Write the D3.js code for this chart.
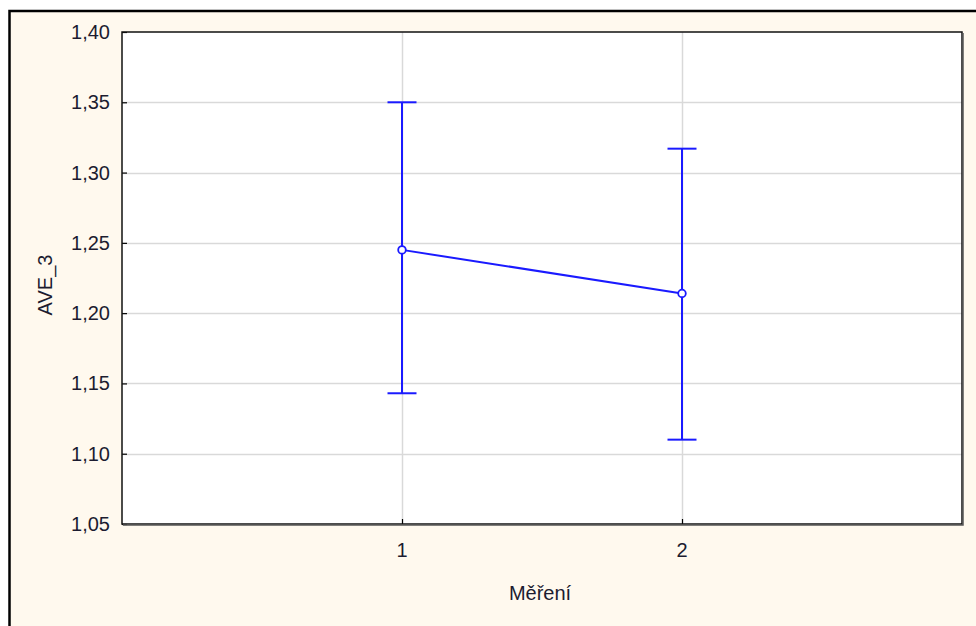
<!DOCTYPE html>
<html>
<head>
<meta charset="utf-8">
<script src="https://cdn.jsdelivr.net/npm/d3@7"></script>
<style>
  body { margin: 0; background: #ffffff; }
  svg { display: block; }
  text { font-family: "Liberation Sans", Arial, sans-serif; fill: #1c1c30; }
</style>
</head>
<body>
<svg id="chart" width="976" height="626"></svg>
<script>
// data
const categories = [1, 2];
const means = [1.245, 1.214];
const upper = [1.350, 1.317];
const lower = [1.143, 1.110];
const yTicks = [1.05, 1.10, 1.15, 1.20, 1.25, 1.30, 1.35, 1.40];

const svg = d3.select('#chart');
const W = 976, H = 626;
const plot = { left: 122, top: 32, right: 962, bottom: 524 };
const fontSize = 20;

// outer frame (runs off the right/bottom edge)
svg.append('rect')
    .attr('x', 9.5).attr('y', 11)
    .attr('width', W + 20).attr('height', H + 20)
    .attr('fill', '#fff9ee')
    .attr('stroke', '#000')
    .attr('stroke-width', 2.5);

const x = d3.scaleLinear().domain([0, 3]).range([plot.left, plot.right]);
const y = d3.scaleLinear().domain([1.05, 1.40]).range([plot.bottom, plot.top]);

// plot background
svg.append('rect')
    .attr('x', plot.left).attr('y', plot.top)
    .attr('width', plot.right - plot.left).attr('height', plot.bottom - plot.top)
    .attr('fill', '#ffffff');

// grid
const grid = svg.append('g').attr('stroke', '#d9d9d9').attr('stroke-width', 1.5);
grid.selectAll('.hg')
    .data(yTicks.slice(1, -1))
    .enter().append('line')
    .attr('x1', plot.left).attr('x2', plot.right)
    .attr('y1', d => Math.round(y(d)) + 0.5).attr('y2', d => Math.round(y(d)) + 0.5);
grid.selectAll('.vg')
    .data(categories)
    .enter().append('line')
    .attr('y1', plot.top).attr('y2', plot.bottom)
    .attr('x1', d => Math.round(x(d)) + 0.5).attr('x2', d => Math.round(x(d)) + 0.5);

// axes with inward ticks
const yAxis = d3.axisRight(y)
    .tickValues(yTicks)
    .tickSize(5)
    .tickFormat(() => '');
svg.append('g')
    .attr('transform', `translate(${plot.left},0)`)
    .call(yAxis)
    .call(g => g.select('.domain').remove())
    .selectAll('line').attr('stroke', '#000').attr('stroke-width', 1.2);

const xAxis = d3.axisTop(x)
    .tickValues(categories)
    .tickSize(5)
    .tickFormat(() => '');
svg.append('g')
    .attr('transform', `translate(0,${plot.bottom})`)
    .call(xAxis)
    .call(g => g.select('.domain').remove())
    .selectAll('line').attr('stroke', '#000').attr('stroke-width', 1.2);

// plot frame (darker right/bottom edges)
svg.append('rect')
    .attr('x', plot.left).attr('y', plot.top)
    .attr('width', plot.right - plot.left).attr('height', plot.bottom - plot.top)
    .attr('fill', 'none')
    .attr('stroke', '#111')
    .attr('stroke-width', 1.5);
svg.append('path')
    .attr('d', `M${plot.right + 1},${plot.top + 1}V${plot.bottom + 1}H${plot.left + 1}`)
    .attr('fill', 'none')
    .attr('stroke', '#555')
    .attr('stroke-width', 1.5);

// tick labels
const fmt = d => d3.format('.2f')(d).replace('.', ',');
svg.append('g')
    .selectAll('text')
    .data(yTicks)
    .enter().append('text')
    .attr('x', plot.left - 12)
    .attr('y', d => y(d))
    .attr('dy', '0.35em')
    .attr('text-anchor', 'end')
    .attr('font-size', fontSize)
    .text(fmt);

svg.append('g')
    .selectAll('text')
    .data(categories)
    .enter().append('text')
    .attr('x', d => x(d))
    .attr('y', 550)
    .attr('dy', '0.35em')
    .attr('text-anchor', 'middle')
    .attr('font-size', fontSize)
    .text(d => d);

// axis titles
svg.append('text')
    .attr('x', 540)
    .attr('y', 593)
    .attr('dy', '0.35em')
    .attr('text-anchor', 'middle')
    .attr('font-size', fontSize)
    .text('Měření');

svg.append('text')
    .attr('transform', `translate(45,${(plot.top + plot.bottom) / 2 + 7}) rotate(-90)`)
    .attr('dy', '0.35em')
    .attr('text-anchor', 'middle')
    .attr('font-size', fontSize)
    .text('AVE_3');

// error bars
const blue = '#1a1aff';
const bars = svg.append('g').attr('stroke', blue).attr('stroke-width', 2).attr('fill', 'none');
categories.forEach((c, i) => {
    const cx = x(c);
    bars.append('line')
        .attr('x1', cx).attr('x2', cx)
        .attr('y1', y(upper[i])).attr('y2', y(lower[i]));
    [upper[i], lower[i]].forEach(v => {
        bars.append('line')
            .attr('x1', cx - 14.5).attr('x2', cx + 14.5)
            .attr('y1', y(v)).attr('y2', y(v));
    });
});

// mean line and markers
const line = d3.line()
    .x((d, i) => x(categories[i]))
    .y(d => y(d));
svg.append('path')
    .datum(means)
    .attr('d', line)
    .attr('fill', 'none')
    .attr('stroke', blue)
    .attr('stroke-width', 2);

svg.append('g')
    .selectAll('circle')
    .data(means)
    .enter().append('circle')
    .attr('cx', (d, i) => x(categories[i]))
    .attr('cy', d => y(d))
    .attr('r', 3.8)
    .attr('fill', '#fff')
    .attr('stroke', blue)
    .attr('stroke-width', 1.8);
</script>
</body>
</html>
